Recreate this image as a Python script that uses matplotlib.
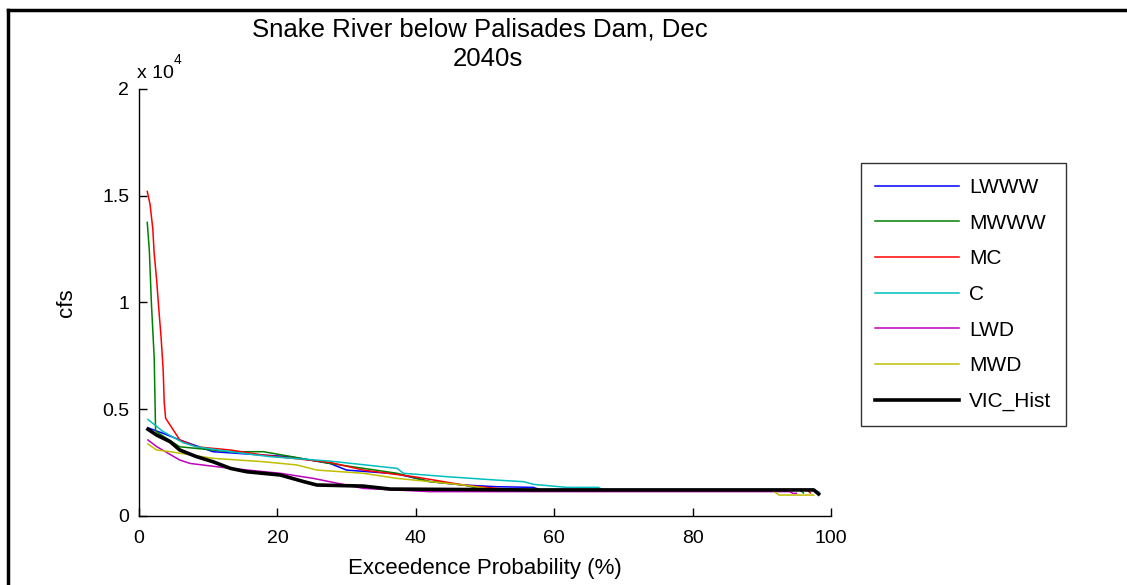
import matplotlib
matplotlib.use("Agg")
import matplotlib.pyplot as plt
from matplotlib.ticker import FuncFormatter
from matplotlib.lines import Line2D

plt.rcParams['font.family'] = ['Liberation Sans', 'DejaVu Sans']

# exceedance probability (%) and flow (cfs)
lwww_p = [1.3, 3.5, 5.9, 10.7, 18, 21.8, 27.6, 30, 37.3, 42, 46.9, 51.7, 57, 58, 97.5, 98.3]
lwww_q = [4130, 3870, 3560, 3010, 2850, 2780, 2460, 2150, 1970, 1610, 1450, 1370, 1340, 1220, 1220, 1100]

mwww_p = [1.2, 1.5, 1.8, 2.2, 2.4, 2.5, 5.9, 13.2, 18, 27.6, 37.3, 42, 46.9, 50, 95.5, 96]
mwww_q = [13750, 12430, 9950, 7430, 4020, 3950, 3240, 3010, 3010, 2460, 2000, 1610, 1450, 1220, 1220, 1080]

mc_p = [1.2, 1.6, 2.0, 2.2, 2.55, 2.85, 3.2, 3.5, 3.65, 3.85, 5.9, 8.3, 13.2, 18, 27.6, 32.4,
        39.7, 46.9, 51.7, 55, 96.5, 97]
mc_q = [15200, 14600, 13450, 12300, 11070, 9770, 8360, 6820, 5330, 4580, 3560, 3240, 3090, 2850,
        2510, 2150, 1840, 1450, 1290, 1220, 1220, 1080]

c_p = [1.3, 3.5, 6.4, 8.3, 13.2, 18.9, 27.6, 37.3, 38.2, 44.5, 51.7, 55.6, 57, 61.8, 66.4, 67,
       97.5, 98.3]
c_q = [4520, 3950, 3430, 3240, 3010, 2780, 2570, 2230, 2000, 1840, 1680, 1605, 1480, 1340, 1340,
       1220, 1220, 1100]

lwd_p = [1.3, 2.6, 5.9, 7.4, 13.2, 20.4, 25.2, 32.4, 42, 94, 94.5, 95]
lwd_q = [3560, 3240, 2620, 2460, 2230, 2000, 1760, 1290, 1140, 1140, 1060, 1060]

mwd_p = [1.3, 2.55, 4.5, 10.7, 18, 22.8, 25.7, 32.4, 37.3, 42, 46.9, 51.7, 53.6, 91.5, 92.5, 97.5]
mwd_q = [3370, 3090, 3010, 2700, 2540, 2390, 2150, 2000, 1760, 1610, 1450, 1220, 1200, 1200, 980, 980]

hist_p = [1.3, 2.55, 4.5, 5.9, 8.3, 10.7, 13.2, 15.6, 20.4, 23.8, 25.7, 32.4, 36.3, 56.5, 97.5, 98.2]
hist_q = [4060, 3790, 3480, 3090, 2780, 2540, 2230, 2070, 1920, 1610, 1450, 1400, 1260, 1220, 1220, 1030]

series = [
    ('LWWW', lwww_p, lwww_q, (0, 0, 1)),
    ('MWWW', mwww_p, mwww_q, (0, 0.5, 0)),
    ('MC', mc_p, mc_q, (1, 0, 0)),
    ('C', c_p, c_q, (0, 0.75, 0.75)),
    ('LWD', lwd_p, lwd_q, (0.75, 0, 0.75)),
    ('MWD', mwd_p, mwd_q, (0.75, 0.75, 0)),
]

W, H = 1127, 585
fig = plt.figure(figsize=(W / 100, H / 100), dpi=100)
ax = fig.add_axes([0.1233, 0.118, 0.6141, 0.7299])

for name, p, q, col in series:
    ax.plot(p, q, color=col, lw=1.1, label=name)
ax.plot(hist_p, hist_q, color='black', lw=2.6, label='VIC_Hist')

ax.set_xlim(0, 100)
ax.set_ylim(0, 20000)
ax.set_xticks([0, 20, 40, 60, 80, 100])
ax.set_yticks([0, 5000, 10000, 15000, 20000])
ax.yaxis.set_major_formatter(FuncFormatter(lambda v, pos: '%g' % (v / 1e4)))
ax.tick_params(direction='in', length=6, width=1, labelsize=14, pad=7)
ax.tick_params(axis='x', pad=10)
for s in ['top', 'right']:
    ax.spines[s].set_visible(False)
for s in ['left', 'bottom']:
    ax.spines[s].set_linewidth(1)

ax.set_xlabel('Exceedence Probability (%)', fontsize=16, labelpad=8)
ax.set_ylabel('cfs', fontsize=16, labelpad=18)

# two-line title, placed in pixel terms
fig.text(480 / W, 1 - 37 / H, 'Snake River below Palisades Dam, Dec', fontsize=18.5,
         ha='center', va='baseline')
fig.text(488 / W, 1 - 66 / H, '2040s', fontsize=18.5, ha='center', va='baseline')

# exponent label above the y axis
fig.text(137 / W, 1 - 78 / H, 'x 10', fontsize=14, ha='left', va='baseline')
fig.text(174 / W, 1 - 64 / H, '4', fontsize=10, ha='left', va='baseline')

leg = ax.legend(loc='upper left', bbox_to_anchor=(1.043, 0.826), borderaxespad=0,
                fontsize=15, frameon=True, fancybox=False, handlelength=4.0,
                labelspacing=0.8, borderpad=0.7, handletextpad=0.5)
leg.get_frame().set_edgecolor('black')
leg.get_frame().set_linewidth(1)

# outer frame lines (top and left)
fig.add_artist(Line2D([0.007, 1.0], [0.983, 0.983], color='black', lw=2.5,
                      transform=fig.transFigure))
fig.add_artist(Line2D([0.007, 0.007], [0.0, 0.983], color='black', lw=2.5,
                      transform=fig.transFigure))

fig.savefig('out.png', dpi=100)
